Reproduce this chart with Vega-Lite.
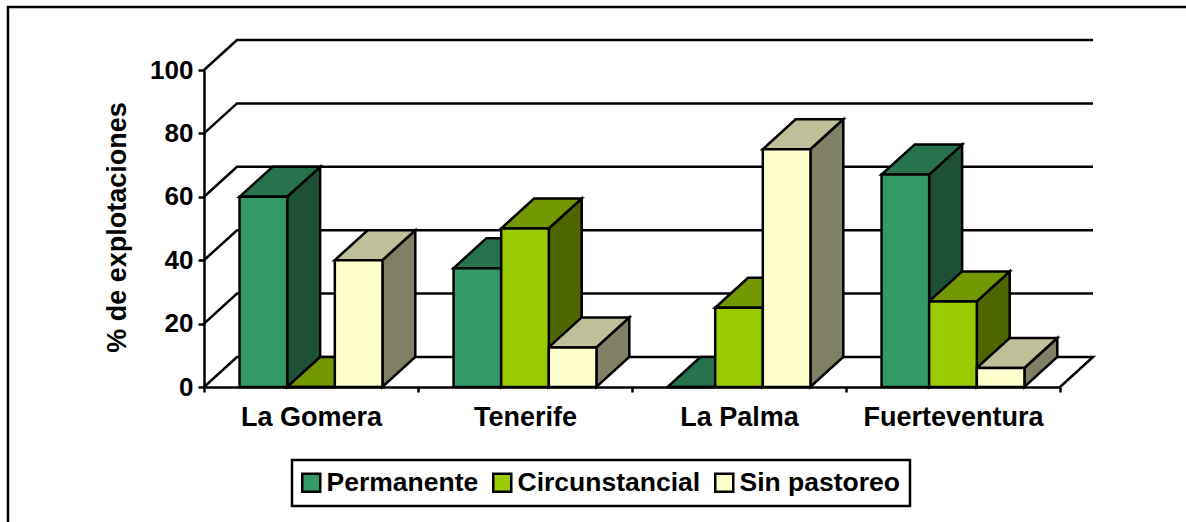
{
"$schema":"https://vega.github.io/schema/vega-lite/v6.json",
"width":1186,"height":522,"padding":0,"autosize":{"type":"none"},"background":"white",
"view":{"stroke":null,"fill":null},
"config":{"legend":{"strokeWidth":2.5}},
"datasets":{
"barras":[
{"isla":"La Gomera","serie":"Permanente","valor":60},{"isla":"La Gomera","serie":"Circunstancial","valor":0},{"isla":"La Gomera","serie":"Sin pastoreo","valor":40},
{"isla":"Tenerife","serie":"Permanente","valor":37.5},{"isla":"Tenerife","serie":"Circunstancial","valor":50},{"isla":"Tenerife","serie":"Sin pastoreo","valor":12.5},
{"isla":"La Palma","serie":"Permanente","valor":0},{"isla":"La Palma","serie":"Circunstancial","valor":25},{"isla":"La Palma","serie":"Sin pastoreo","valor":75},
{"isla":"Fuerteventura","serie":"Permanente","valor":67},{"isla":"Fuerteventura","serie":"Circunstancial","valor":27},{"isla":"Fuerteventura","serie":"Sin pastoreo","valor":6}],
"niveles":[{"nivel":0},{"nivel":20},{"nivel":40},{"nivel":60},{"nivel":80},{"nivel":100}],
"marco":[{"mx":-0.916,"my":-42.6,"o":0},{"mx":-0.916,"my":119.87,"o":1},{"mx":4.589,"my":119.87,"o":2}]
},
"resolve":{"scale":{"x":"independent","y":"independent","color":"independent"}},
"layer":[
{"data":{"name":"marco"},"mark":{"type":"line","stroke":"black","strokeWidth":2.5,"strokeJoin":"miter"},
"encoding":{"x":{"field":"mx","type":"quantitative","axis":null,"scale":{"domain":[0,4],"range":[204,1060]}},
"y":{"field":"my","type":"quantitative","axis":null,"scale":{"domain":[0,100],"range":[387,70]}},"order":{"field":"o"}}},
{"data":{"name":"niveles"},
"transform":[{"calculate":"[0,1,2,3]","as":"t"},{"flatten":["t"]},{"filter":"datum.t<3||datum.nivel==0"},
{"calculate":"datum.t==0||datum.t==3?(datum.t==0?0:4):(datum.t==1?0.1542:4.1542)","as":"gx"},
{"calculate":"datum.nivel+((datum.t==1||datum.t==2)?9.46:0)","as":"gy"}],
"mark":{"type":"line","stroke":"black","strokeWidth":2.5},
"encoding":{"x":{"field":"gx","type":"quantitative","axis":null,"scale":{"domain":[0,4],"range":[204,1060]}},
"y":{"field":"gy","type":"quantitative","axis":null,"scale":{"domain":[0,100],"range":[387,70]}},"detail":{"field":"nivel"},"order":{"field":"t"}}},
{"data":{"name":"barras"},
"transform":[{"calculate":"[0,1]","as":"t"},{"flatten":["t"]},
{"calculate":"indexof(['La Gomera','Tenerife','La Palma','Fuerteventura'],datum.isla)+0.166+0.2224*indexof(['Permanente','Circunstancial','Sin pastoreo'],datum.serie)","as":"x0"},
{"calculate":"datum.x0+0.2224+datum.t*0.1542","as":"sx"},
{"calculate":"datum.valor+datum.t*9.46","as":"sy"},
{"calculate":"datum.t*9.46","as":"sy2"},
{"calculate":"datum.isla+datum.serie","as":"barra"}],
"mark":{"type":"area","orient":"vertical","stroke":"black","strokeWidth":2.5,"strokeJoin":"miter","opacity":1},
"encoding":{"x":{"field":"sx","type":"quantitative","axis":null,"scale":{"domain":[0,4],"range":[204,1060]}},
"y":{"field":"sy","type":"quantitative","axis":null,"stack":null,"scale":{"domain":[0,100],"range":[387,70]}},
"y2":{"field":"sy2"},"detail":{"field":"barra"},
"color":{"field":"serie","type":"nominal","legend":null,"scale":{"domain":["Permanente","Circunstancial","Sin pastoreo"],"range":["#1E5035","#4D6600","#808066"]}}}},
{"data":{"name":"barras"},
"transform":[{"calculate":"[0,1]","as":"t"},{"flatten":["t"]},
{"calculate":"indexof(['La Gomera','Tenerife','La Palma','Fuerteventura'],datum.isla)+0.166+0.2224*indexof(['Permanente','Circunstancial','Sin pastoreo'],datum.serie)","as":"x0"},
{"calculate":"datum.x0+datum.t*0.1542","as":"tx"},
{"calculate":"datum.x0+0.2224+datum.t*0.1542","as":"tx2"},
{"calculate":"datum.valor+datum.t*9.46","as":"ty"},
{"calculate":"datum.isla+datum.serie","as":"barra"}],
"mark":{"type":"area","orient":"horizontal","stroke":"black","strokeWidth":2.5,"strokeJoin":"miter","opacity":1},
"encoding":{"y":{"field":"ty","type":"quantitative","axis":null,"scale":{"domain":[0,100],"range":[387,70]}},
"x":{"field":"tx","type":"quantitative","axis":null,"stack":null,"scale":{"domain":[0,4],"range":[204,1060]}},
"x2":{"field":"tx2"},"detail":{"field":"barra"},
"color":{"field":"serie","type":"nominal","legend":null,"scale":{"domain":["Permanente","Circunstancial","Sin pastoreo"],"range":["#26734D","#739900","#BFBF99"]}}}},
{"data":{"name":"barras"},
"mark":{"type":"bar","stroke":"black","strokeWidth":2.5,"opacity":1},
"encoding":{
"x":{"field":"isla","type":"nominal","sort":["La Gomera","Tenerife","La Palma","Fuerteventura"],
"scale":{"domain":["La Gomera","Tenerife","La Palma","Fuerteventura"],"range":[204,1060],"padding":0},
"axis":{"title":null,"offset":-135,"labelAngle":0,"tickBand":"extent","tickSize":5,"tickWidth":2.5,"tickColor":"black","domainColor":"black","domainWidth":2.5,"labelFont":"Liberation Sans","labelFontWeight":"bold","labelFontSize":27,"labelColor":"black","labelPadding":12,"grid":false,"labelOverlap":false,"labelLimit":300}},
"xOffset":{"field":"serie","type":"nominal","scale":{"domain":["Permanente","Circunstancial","Sin pastoreo"],"paddingInner":0,"paddingOuter":0.746}},
"y":{"field":"valor","type":"quantitative","stack":null,"scale":{"domain":[0,100],"range":[387,70]},
"axis":{"title":"% de explotaciones","offset":-204,"values":[0,20,40,60,80,100],"grid":false,"tickSize":6,"tickWidth":2.5,"tickColor":"black","domainColor":"black","domainWidth":2.5,"labelFont":"Liberation Sans","labelFontWeight":"bold","labelFontSize":26,"labelColor":"black","labelPadding":5,"titleFont":"Liberation Sans","titleFontWeight":"bold","titleFontSize":27,"titleColor":"black","titleX":-73,"titleY":227}},
"color":{"field":"serie","type":"nominal","scale":{"domain":["Permanente","Circunstancial","Sin pastoreo"],"range":["#339966","#99CC00","#FFFFCC"]},
"legend":{"title":null,"orient":"none","legendX":292,"legendY":460,"columns":3,"direction":"horizontal","symbolType":"square","symbolSize":324,"symbolOffset":-3,"symbolStrokeColor":"black","symbolStrokeWidth":2.5,"symbolOpacity":1,"labelFont":"Liberation Sans","labelFontWeight":"bold","labelFontSize":26.5,"labelColor":"black","labelOffset":2,"columnPadding":9,"padding":9,"strokeColor":"black","fillColor":"white","labelLimit":300}}}}
]
}
